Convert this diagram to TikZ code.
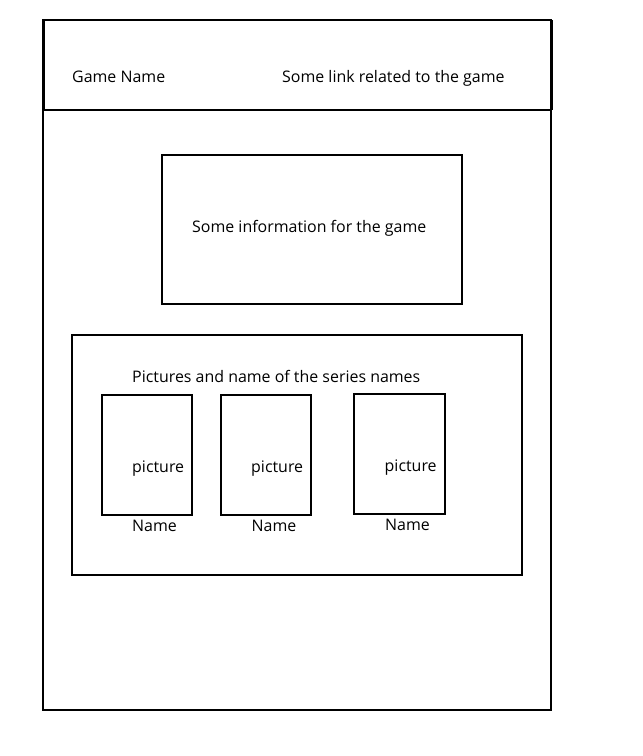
\documentclass[tikz,border=0pt]{standalone}
\usepackage{fontspec}
\setmainfont{Open Sans}
\begin{document}
\begin{tikzpicture}[x=1bp,y=-1bp,
  box/.style={draw=black,line width=2bp},
  lbl/.style={anchor=base west,inner sep=0pt,font=\fontsize{16}{19}\selectfont}]
\useasboundingbox (0,0) rectangle (643,756);
% outer page
\draw[box] (42.7,20.3) rectangle (551,709.5);
% header
\draw[box] (43.5,20.3) rectangle (551,109.7);
\draw[line width=3bp] (43.5,20.3) -- (43.5,109.7);
\draw[line width=3bp] (551,20.3) -- (551,109.7);
\node[lbl] (gamename) at (72,82) {Game Name};
\node[lbl] (gamelink) at (282,82) {Some link related to the game};
% info box
\draw[box] (162,155) rectangle (462,304);
\node[lbl] (info) at (192,232) {Some information for the game};
% series box
\draw[box] (72,335) rectangle (522,575);
\node[lbl] (series) at (132,382) {Pictures and name of the series names};
% pictures
\draw[box] (102,395) rectangle (192,515);
\draw[box] (221.3,395.3) rectangle (311.3,515.3);
\draw[box] (354,394) rectangle (445,514);
\node[lbl] (pic1) at (132,472) {picture};
\node[lbl] (pic2) at (251,472) {picture};
\node[lbl] (pic3) at (384.5,471) {picture};
\node[lbl] (name1) at (132,531) {Name};
\node[lbl] (name2) at (251.5,531) {Name};
\node[lbl] (name3) at (385,530) {Name};
\end{tikzpicture}
\end{document}
